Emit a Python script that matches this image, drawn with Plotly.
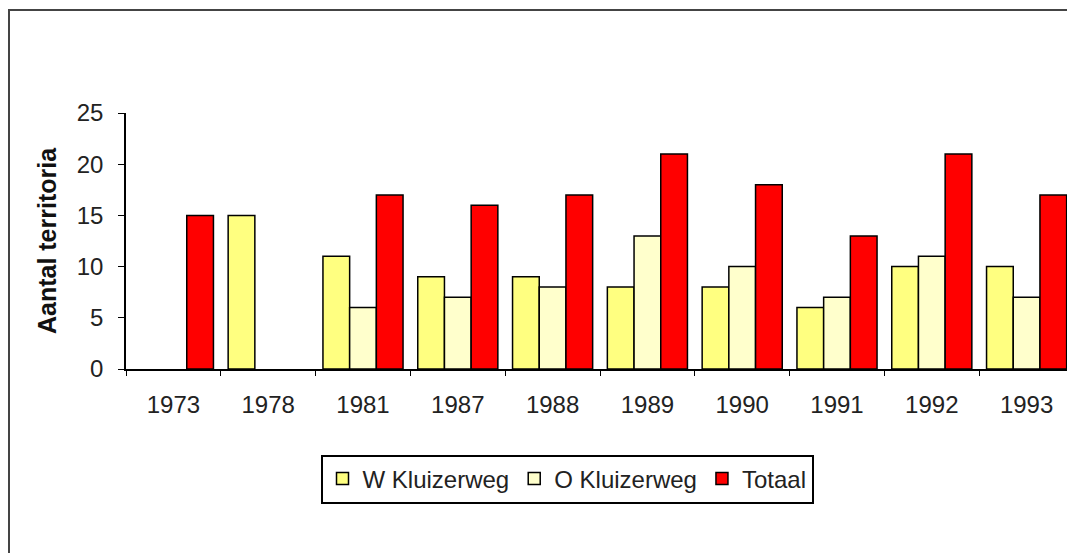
import plotly.graph_objects as go

years = ["1973", "1978", "1981", "1987", "1988", "1989", "1990", "1991", "1992", "1993"]
w_kluizerweg = [None, 15, 11, 9, 9, 8, 8, 6, 10, 10]
o_kluizerweg = [None, None, 6, 7, 8, 13, 10, 7, 11, 7]
totaal = [15, None, 17, 16, 17, 21, 18, 13, 21, 17]

OFF = 8  # page body margin
W, H = 1075 - OFF, 553 - OFF
L, R, T, B = 126 - OFF, 1074 - OFF, 113 - OFF, 369 - OFF
pw, ph = R - L, B - T

def px(x):
    return (x - OFF - L) / pw

def py(y):
    return (B - (y - OFF)) / ph

fig = go.Figure()
for name, vals, col in [("W Kluizerweg", w_kluizerweg, "#FFFF80"),
                        ("O Kluizerweg", o_kluizerweg, "#FFFFCC"),
                        ("Totaal", totaal, "#FF0000")]:
    fig.add_trace(go.Bar(x=years, y=vals, name=name,
                         marker=dict(color=col, line=dict(color="black", width=1.5))))

fig.update_layout(
    width=W, height=H,
    margin=dict(l=L, r=W - R, t=T, b=H - B),
    paper_bgcolor="white", plot_bgcolor="white",
    barmode="group", bargap=0.155, bargroupgap=0,
    font=dict(family="Liberation Sans, Arial, sans-serif", size=24, color="#222"),
    showlegend=True,
    legend=dict(orientation="h", x=px(567), y=py(479), xanchor="center", yanchor="middle",
                bordercolor="black", borderwidth=2, bgcolor="white",
                font=dict(size=24, color="#222"), itemwidth=30, traceorder="normal",
                tracegroupgap=0),
    shapes=[dict(type="rect", xref="paper", yref="paper",
                 x0=px(9), x1=px(1100), y0=py(600), y1=py(10),
                 line=dict(color="#444", width=2), layer="below")],
)
fig.update_xaxes(type="category", showline=True, linecolor="black", linewidth=1.5,
                 ticks="outside", tickson="boundaries", ticklen=5, tickcolor="black",
                 tickfont=dict(size=24, color="#222"), showgrid=False,
                 ticklabelstandoff=13)
fig.update_yaxes(range=[0, 25], dtick=5, showline=True, linecolor="black", linewidth=1.5,
                 ticks="outside", ticklen=6, tickcolor="black", showgrid=False, zeroline=False,
                 tickfont=dict(size=24, color="#222"), ticklabelstandoff=10,
                 title=dict(text="<b>Aantal territoria</b>", font=dict(size=25, color="#111"), standoff=13))

fig.write_html("out.html")
